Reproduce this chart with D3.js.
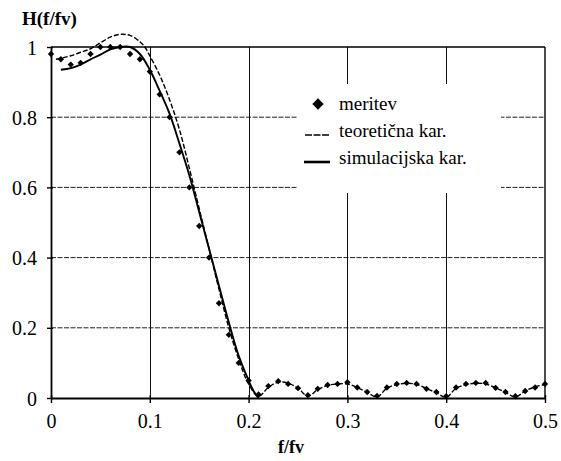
<!DOCTYPE html>
<html><head><meta charset="utf-8">
<script src="https://cdn.jsdelivr.net/npm/d3@7"></script>
<style>body{margin:0;background:#fff}svg{display:block}text{font-family:"Liberation Serif","DejaVu Serif",serif;fill:#000}</style>
</head><body><svg id="c" width="561" height="461"></svg>
<script>
// measured points (meritev)
const measF = [0,0.01,0.02,0.03,0.04,0.05,0.06,0.07,0.08,0.09,0.10,0.11,0.12,0.13,0.14,0.15,0.16,0.17,0.18,0.19,0.20,0.21,0.22,0.23,0.24,0.25,0.26,0.27,0.28,0.29,0.30,0.31,0.32,0.33,0.34,0.35,0.36,0.37,0.38,0.39,0.40,0.41,0.42,0.43,0.44,0.45,0.46,0.47,0.48,0.49,0.50];
const measH = [0.98,0.965,0.95,0.955,0.98,1.0,1.0,1.0,0.98,0.965,0.93,0.865,0.80,0.70,0.60,0.49,0.40,0.27,0.18,0.10,0.05,0.01,0.034,0.048,0.04,0.028,0.008,0.026,0.037,0.04,0.045,0.03,0.017,0.006,0.03,0.04,0.043,0.04,0.026,0.017,0.005,0.03,0.04,0.043,0.043,0.029,0.017,0.005,0.02,0.03,0.04];
// theoretical characteristic (teoretična kar.)
const teoF = [0.005,0.01,0.02,0.03,0.04,0.05,0.06,0.07,0.08,0.09,0.095,0.10,0.11,0.12,0.13,0.14,0.15,0.16,0.17,0.18,0.19,0.20,0.21,0.22,0.23,0.24,0.25,0.26,0.27,0.28,0.29,0.30,0.31,0.32,0.33,0.34,0.35,0.36,0.37,0.38,0.39,0.40,0.41,0.42,0.43,0.44,0.45,0.46,0.47,0.48,0.49,0.50];
const teoH = [0.965,0.968,0.975,0.985,0.995,1.012,1.028,1.036,1.033,1.015,1.0,0.975,0.92,0.85,0.765,0.655,0.54,0.425,0.31,0.20,0.11,0.04,0.005,0.03,0.045,0.042,0.028,0.005,0.024,0.036,0.04,0.04,0.03,0.016,0.003,0.028,0.038,0.042,0.039,0.027,0.015,0.002,0.028,0.038,0.042,0.04,0.029,0.016,0.003,0.02,0.032,0.038];
// simulation characteristic (simulacijska kar.)
const simF = [0.01,0.02,0.03,0.04,0.05,0.06,0.07,0.08,0.09,0.10,0.11,0.12,0.13,0.14,0.15,0.16,0.17,0.18,0.19,0.20,0.205,0.21];
const simH = [0.935,0.94,0.95,0.965,0.978,0.993,1.0,1.0,0.98,0.935,0.875,0.81,0.725,0.635,0.53,0.425,0.32,0.215,0.12,0.05,0.02,0.0];
const xTicks = [0,0.1,0.2,0.3,0.4,0.5];
const yTicks = [0,0.2,0.4,0.6,0.8,1];
const xTickLabels = ["0","0.1","0.2","0.3","0.4","0.5"];
const yTickLabels = ["0","0.2","0.4","0.6","0.8","1"];
const legendLabels = ["meritev","teoretična kar.","simulacijska kar."];

const svg = d3.select("#c");
const x = d3.scaleLinear().domain([0,0.5]).range([51,545]);
const y = d3.scaleLinear().domain([0,1]).range([398,47]);

// gridlines
svg.append("g").selectAll("line").data(yTicks.filter(v=>v>0&&v<1)).join("line")
  .attr("x1",x(0)).attr("x2",x(0.5)).attr("y1",d=>y(d)).attr("y2",d=>y(d))
  .attr("stroke","#222").attr("stroke-width",1).attr("stroke-dasharray","5,1.5");
svg.append("g").selectAll("line").data(xTicks.filter(v=>v>0&&v<0.5)).join("line")
  .attr("y1",y(0)).attr("y2",y(1)).attr("x1",d=>Math.round(x(d))+0.5).attr("x2",d=>Math.round(x(d))+0.5)
  .attr("stroke","#111").attr("stroke-width",1);
// frame top/right
svg.append("line").attr("x1",x(0)).attr("x2",x(0.5)).attr("y1",y(1)).attr("y2",y(1)).attr("stroke","#000").attr("stroke-width",1.4);
svg.append("line").attr("x1",x(0.5)).attr("x2",x(0.5)).attr("y1",y(1)).attr("y2",y(0)).attr("stroke","#000").attr("stroke-width",1.4);

// legend backdrop
svg.append("rect").attr("x",297).attr("y",84).attr("width",204).attr("height",109).attr("fill","#fff");

// axes
const ax = svg.append("g").attr("transform",`translate(0,${y(0)})`)
  .call(d3.axisBottom(x).tickValues(xTicks).tickSize(5).tickSizeOuter(0).tickFormat((d,i)=>xTickLabels[i]));
ax.attr("font-family",null);
ax.select(".domain").attr("stroke","#000").attr("stroke-width",1.8);
ax.selectAll(".tick line").attr("stroke","#000").attr("stroke-width",1.4).attr("y1",-3);
ax.selectAll(".tick text").attr("font-size",20).attr("dy",0).attr("y",30);
const ay = svg.append("g").attr("transform",`translate(${x(0)},0)`)
  .call(d3.axisLeft(y).tickValues(yTicks).tickSize(4).tickSizeOuter(0).tickFormat((d,i)=>yTickLabels[i]));
ay.attr("font-family",null);
ay.select(".domain").attr("stroke","#000").attr("stroke-width",1.8);
ay.selectAll(".tick line").attr("stroke","#000").attr("stroke-width",1.4).attr("x2",-4).attr("x1",2);
ay.selectAll(".tick text").attr("font-size",20).attr("x",-14).attr("dy","0.35em");

// curves
const line = d3.line().x(d=>x(d[0])).y(d=>y(d[1])).curve(d3.curveCatmullRom.alpha(0.5));
svg.append("path").datum(teoF.map((f,i)=>[f,teoH[i]])).attr("d",line)
  .attr("fill","none").attr("stroke","#000").attr("stroke-width",1.4).attr("stroke-dasharray","5,2");
svg.append("path").datum(simF.map((f,i)=>[f,simH[i]])).attr("d",line)
  .attr("fill","none").attr("stroke","#000").attr("stroke-width",1.9);
const diamond = (s)=>d3.symbol(d3.symbolSquare,s)();
svg.append("g").selectAll("path").data(measF.map((f,i)=>[f,measH[i]])).join("path")
  .attr("transform",d=>`translate(${x(d[0])},${y(d[1])}) rotate(45)`)
  .attr("d",diamond(20)).attr("fill","#000");

// titles
svg.append("text").attr("x",22).attr("y",25).attr("font-size",19).attr("font-weight","bold").text("H(f/fv)");
svg.append("text").attr("x",291).attr("y",453).attr("text-anchor","middle").attr("font-size",18).attr("font-weight","bold").text("f/fv");

// legend
const lg = svg.append("g");
lg.append("path").attr("transform","translate(318,104) rotate(45)").attr("d",diamond(64)).attr("fill","#000");
lg.append("line").attr("x1",305).attr("x2",329).attr("y1",135).attr("y2",135).attr("stroke","#000").attr("stroke-width",1.6).attr("stroke-dasharray","7,1.5");
lg.append("line").attr("x1",304).attr("x2",330).attr("y1",162).attr("y2",162).attr("stroke","#000").attr("stroke-width",2.6);
lg.selectAll("text").data(legendLabels).join("text")
  .attr("x",339).attr("y",(d,i)=>110+i*27).attr("font-size",19).text(d=>d);
</script></body></html>
